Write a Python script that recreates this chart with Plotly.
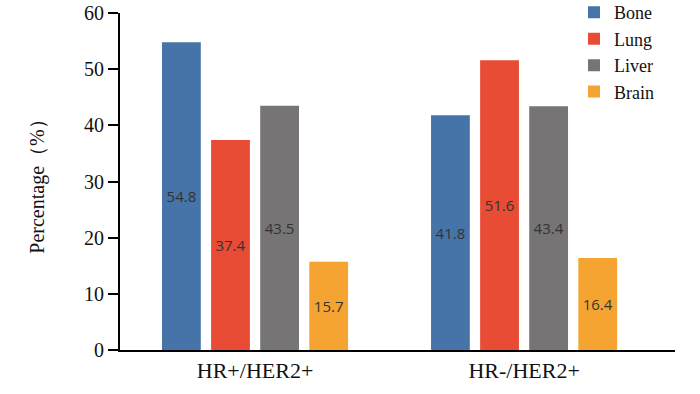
import plotly.graph_objects as go

groups = ["HR+/HER2+", "HR-/HER2+"]
sites = ["Bone", "Lung", "Liver", "Brain"]
values = {
    "Bone": [54.8, 41.8],
    "Lung": [37.4, 51.6],
    "Liver": [43.5, 43.4],
    "Brain": [15.7, 16.4],
}
colors = {"Bone": "#4674A8", "Lung": "#E84C34", "Liver": "#767474", "Brain": "#F5A431"}
yticks = [0, 10, 20, 30, 40, 50, 60]

fig = go.Figure()
for s in sites:
    fig.add_trace(go.Bar(
        x=groups, y=values[s], name=s,
        marker=dict(color=colors[s], line=dict(width=0)),
        text=[f"{v:.1f}" for v in values[s]],
        textposition="inside", insidetextanchor="middle",
        textfont=dict(family="Open Sans, sans-serif", size=15, color="#333333"),
        textangle=0,
    ))

serif = "Liberation Serif"
fig.update_layout(
    width=700, height=394,
    margin=dict(l=120, r=25, t=13, b=44, autoexpand=False),
    plot_bgcolor="white", paper_bgcolor="white",
    barmode="group", bargap=0.27, bargroupgap=0.21,
    uniformtext=dict(minsize=15, mode="show"),
    font=dict(family=serif, size=20, color="#111111"),
    legend=dict(x=0.818, y=1.056, xanchor="left", yanchor="top",
                font=dict(family=serif, size=18, color="#111111"),
                bgcolor="rgba(0,0,0,0)", tracegroupgap=0, itemclick=False),
    xaxis=dict(showline=True, linecolor="black", linewidth=2, ticks="",
               tickfont=dict(family=serif, size=22), range=[-0.502, 1.561],
               automargin=False),
    yaxis=dict(showline=True, linecolor="black", linewidth=2, ticks="outside",
               ticklen=10, tickwidth=2, tickcolor="black", ticklabeloverflow="allow",
               tickvals=yticks, range=[0, 60], showgrid=False, zeroline=False,
               tickfont=dict(family=serif, size=20), automargin=False,
               title=dict(text="Percentage（%）", font=dict(family=serif, size=20), standoff=34)),
)
fig.write_html("out.html", config={"displayModeBar": False},
               post_script="document.body.style.margin='0';")
